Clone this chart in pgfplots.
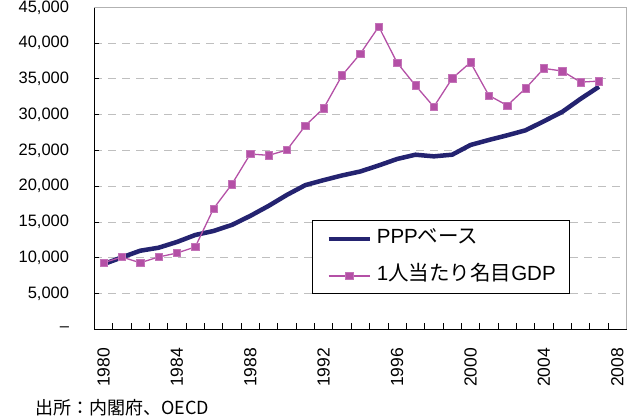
\documentclass[border=0pt]{standalone}
\usepackage{fontspec}
\setmainfont{Liberation Sans}
\newfontfamily\jp{Noto Sans CJK JP}
\usepackage{pgfplots}
\pgfplotsset{compat=1.18}
\definecolor{navy}{RGB}{36,35,112}
\definecolor{pinkv}{RGB}{180,80,166}
\begin{document}
\begin{tikzpicture}
\useasboundingbox (0,0) rectangle (628bp,418bp);
\begin{axis}[
  at={(94.3bp,88.7bp)}, anchor=south west,
  scale only axis, width=532.2bp, height=322bp,
  xmin=1979.5, xmax=2008.5, ymin=0, ymax=45000,
  axis x line*=bottom, axis y line*=left,
  axis line style={black, line width=1bp},
  xtick={1980,1984,1988,1992,1996,2000,2004,2008},
  xticklabels={1980,1984,1988,1992,1996,2000,2004,2008},
  minor xtick={1979.5,1980.5,...,2008.5},
  major x tick style={draw=none},
  minor x tick style={black, line width=0.8bp},
  minor tick length=6bp,
  ytick={0,5000,10000,15000,20000,25000,30000,35000,40000,45000},
  yticklabels={\textendash,{5,000},{10,000},{15,000},{20,000},{25,000},{30,000},{35,000},{40,000},{45,000}},
  major tick length=5bp,
  tick align=inside,
  ytick style={black, line width=0.8bp},
  ymajorgrids,
  major grid style={gray!50, dash pattern=on 8bp off 6bp, line width=0.8bp},
  xticklabel style={rotate=90, anchor=east, inner sep=0pt, font=\fontsize{17.5bp}{20bp}\selectfont},
  xticklabel shift=18.5bp,
  yticklabel style={anchor=east, inner sep=0pt, font=\fontsize{16.5bp}{19bp}\selectfont},
  yticklabel shift=25bp,
  legend style={at={(0.409,0.338)}, anchor=north west, draw=black, line width=0.8bp,
    inner xsep=14bp, inner ysep=8bp, row sep=17bp, column sep=5bp,
    font=\fontsize{20.5bp}{22bp}\selectfont,
    nodes={inner sep=0pt, text height=15bp, text depth=5bp}},
  legend cell align=left,
  legend image code/.code={\draw[mark repeat=2,mark phase=2,#1] plot coordinates {(0bp,0bp) (20.5bp,0bp) (41bp,0bp)};},
  clip=false,
]
\addplot[navy, line width=4.5bp, line join=round] coordinates {
(1980,9100) (1981,10050) (1982,10980) (1983,11400) (1984,12200) (1985,13180)
(1986,13740) (1987,14590) (1988,15850) (1989,17250) (1990,18790) (1991,20150)
(1992,20850) (1993,21500) (1994,22060) (1995,22900) (1996,23800) (1997,24400)
(1998,24170) (1999,24400) (2000,25760) (2001,26460) (2002,27110) (2003,27810)
(2004,29080) (2005,30390) (2006,32210) (2007,33900)};
\addlegendentry{PPP{\jp ベース}}
\addplot[pinkv, line width=1.3bp, mark=square*, mark size=3.7bp, mark options={fill=pinkv, draw=pinkv!80, line width=0.5bp}] coordinates {
(1980,9300) (1981,10100) (1982,9300) (1983,10100) (1984,10660) (1985,11500)
(1986,16870) (1987,20290) (1988,24500) (1989,24310) (1990,25060) (1991,28470)
(1992,30900) (1993,35480) (1994,38530) (1995,42300) (1996,37260) (1997,34080)
(1998,31090) (1999,35060) (2000,37300) (2001,32680) (2002,31280) (2003,33660)
(2004,36460) (2005,36090) (2006,34540) (2007,34690)};
\addlegendentry{1{\jp 人当たり名目}GDP}
\draw[gray!60, line width=1bp] (rel axis cs:0,1) -- (rel axis cs:1,1) -- (rel axis cs:1,0);
\end{axis}
\node[anchor=base west, inner sep=0pt, font=\fontsize{18bp}{20bp}\selectfont] at (35bp,4bp) {\jp 出所：内閣府、OECD};
\end{tikzpicture}
\end{document}
